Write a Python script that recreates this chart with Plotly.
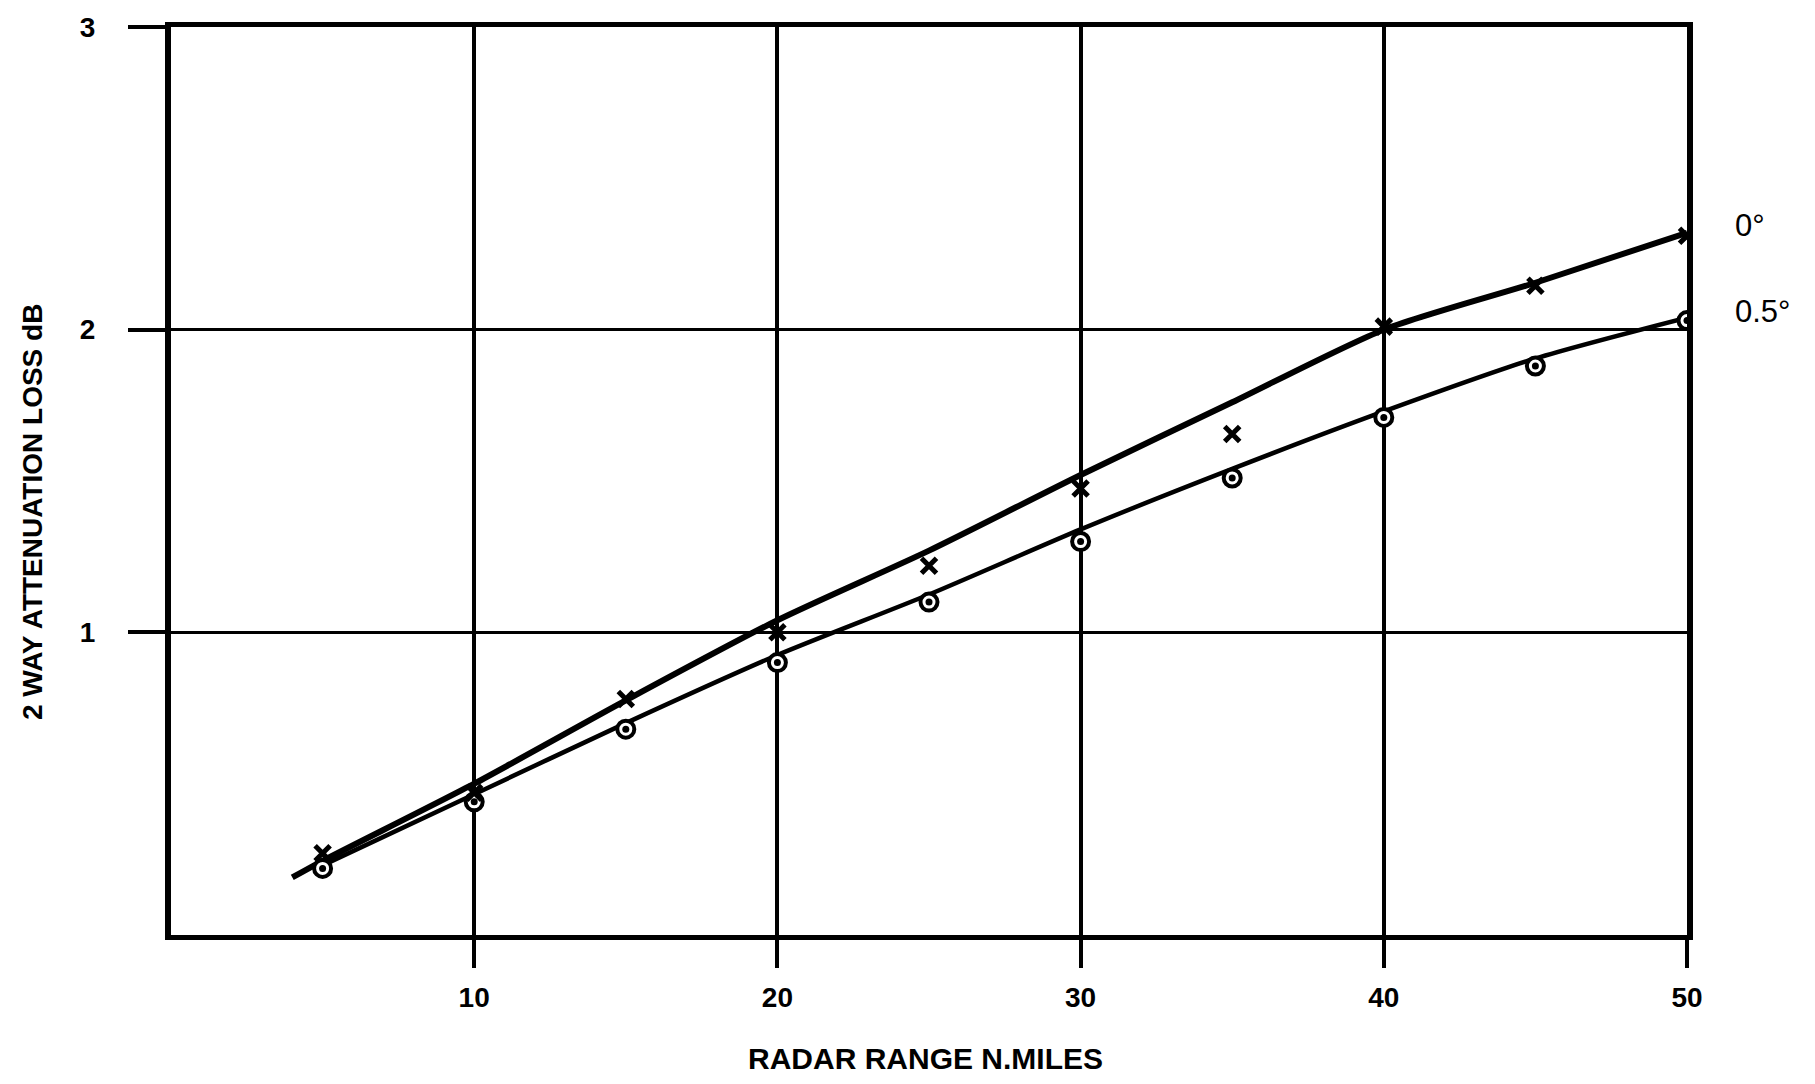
import plotly.graph_objects as go

# Radar range (nautical miles) at which readings were taken
range_nm = [5, 10, 15, 20, 25, 30, 35, 40, 45, 50]

# Measured two-way attenuation loss (dB) for each elevation angle
loss_0deg = [0.27, 0.47, 0.78, 1.00, 1.22, 1.475, 1.655, 2.01, 2.145, 2.31]
loss_05deg = [0.22, 0.44, 0.68, 0.90, 1.10, 1.30, 1.51, 1.71, 1.88, 2.03]

# Faired curves drawn through the readings
fit_range_0deg = [4, 5, 10, 15, 20, 25, 30, 35, 40, 45, 50]
fit_loss_0deg = [0.19, 0.245, 0.50, 0.775, 1.04, 1.27, 1.52, 1.76, 2.00, 2.155, 2.32]
fit_range_05deg = [5, 10, 15, 20, 25, 30, 35, 40, 45, 50]
fit_loss_05deg = [0.23, 0.465, 0.70, 0.925, 1.125, 1.34, 1.54, 1.73, 1.905, 2.04]

series_names = ["0°", "0.5°"]
x_ticks = [10, 20, 30, 40, 50]
y_ticks = [1, 2, 3]

FONT = "Liberation Sans"
INK = "black"

fig = go.Figure()

# faired curves
fig.add_trace(go.Scatter(
    x=fit_range_05deg, y=fit_loss_05deg, mode="lines",
    line=dict(color=INK, width=4.5, shape="spline", smoothing=0.7),
    hoverinfo="skip", name=series_names[1]))
fig.add_trace(go.Scatter(
    x=fit_range_0deg, y=fit_loss_0deg, mode="lines",
    line=dict(color=INK, width=6, shape="spline", smoothing=0.7),
    hoverinfo="skip", name=series_names[0]))

# 0.5 degree readings: ringed dots
fig.add_trace(go.Scatter(
    x=range_nm, y=loss_05deg, mode="markers",
    marker=dict(symbol="circle", size=17, color="white",
                line=dict(color=INK, width=4)),
    name=series_names[1]))
fig.add_trace(go.Scatter(
    x=range_nm, y=loss_05deg, mode="markers",
    marker=dict(symbol="circle", size=7, color=INK, line=dict(width=0)),
    hoverinfo="skip", name=series_names[1]))

# 0 degree readings: crosses
fig.add_trace(go.Scatter(
    x=range_nm, y=loss_0deg, mode="markers",
    marker=dict(symbol="x-thin-open", size=15, color=INK,
                line=dict(color=INK, width=5)),
    name=series_names[0]))

fig.update_layout(
    width=1815, height=1084,
    margin=dict(l=171, r=128, t=14, b=149),
    plot_bgcolor="white", paper_bgcolor="white",
    showlegend=False,
    font=dict(family=FONT, size=27, color=INK),
)

fig.update_xaxes(
    range=[0, 50], tickvals=x_ticks,
    showgrid=True, gridcolor=INK, gridwidth=3.5, zeroline=False,
    showline=True, linecolor=INK, linewidth=5, mirror=True,
    ticks="outside", ticklen=28, tickwidth=4, tickcolor=INK,
    tickfont=dict(family=FONT, size=28, color=INK, weight="bold"),
    ticklabelstandoff=5,
)
fig.update_yaxes(
    range=[0, 3], tickvals=y_ticks,
    showgrid=True, gridcolor=INK, gridwidth=3, zeroline=False,
    showline=True, linecolor=INK, linewidth=6, mirror=True,
    ticks="outside", ticklen=37, tickwidth=3.5, tickcolor=INK,
    tickfont=dict(family=FONT, size=28, color=INK, weight="bold"),
    ticklabelstandoff=27,
)

annotations = [
    dict(text="RADAR RANGE N.MILES", xref="paper", yref="paper",
         x=0.4974, y=-0.1357, xanchor="center", yanchor="middle",
         showarrow=False, font=dict(family=FONT, size=30, color=INK, weight="bold")),
    dict(text="2 WAY ATTENUATION LOSS dB", xref="paper", yref="paper",
         x=-0.0917, y=0.4658, xanchor="center", yanchor="middle", textangle=-90,
         showarrow=False, font=dict(family=FONT, size=28, color=INK, weight="bold")),
    dict(text=series_names[0], xref="x", yref="y",
         x=fit_range_0deg[-1], y=fit_loss_0deg[-1], xshift=46, yshift=7,
         xanchor="left", yanchor="middle", showarrow=False,
         font=dict(family=FONT, size=31, color=INK)),
    dict(text=series_names[1], xref="x", yref="y",
         x=fit_range_05deg[-1], y=fit_loss_05deg[-1], xshift=46, yshift=6,
         xanchor="left", yanchor="middle", showarrow=False,
         font=dict(family=FONT, size=31, color=INK)),
]
fig.update_layout(annotations=annotations)

fig.write_html("out.html")
